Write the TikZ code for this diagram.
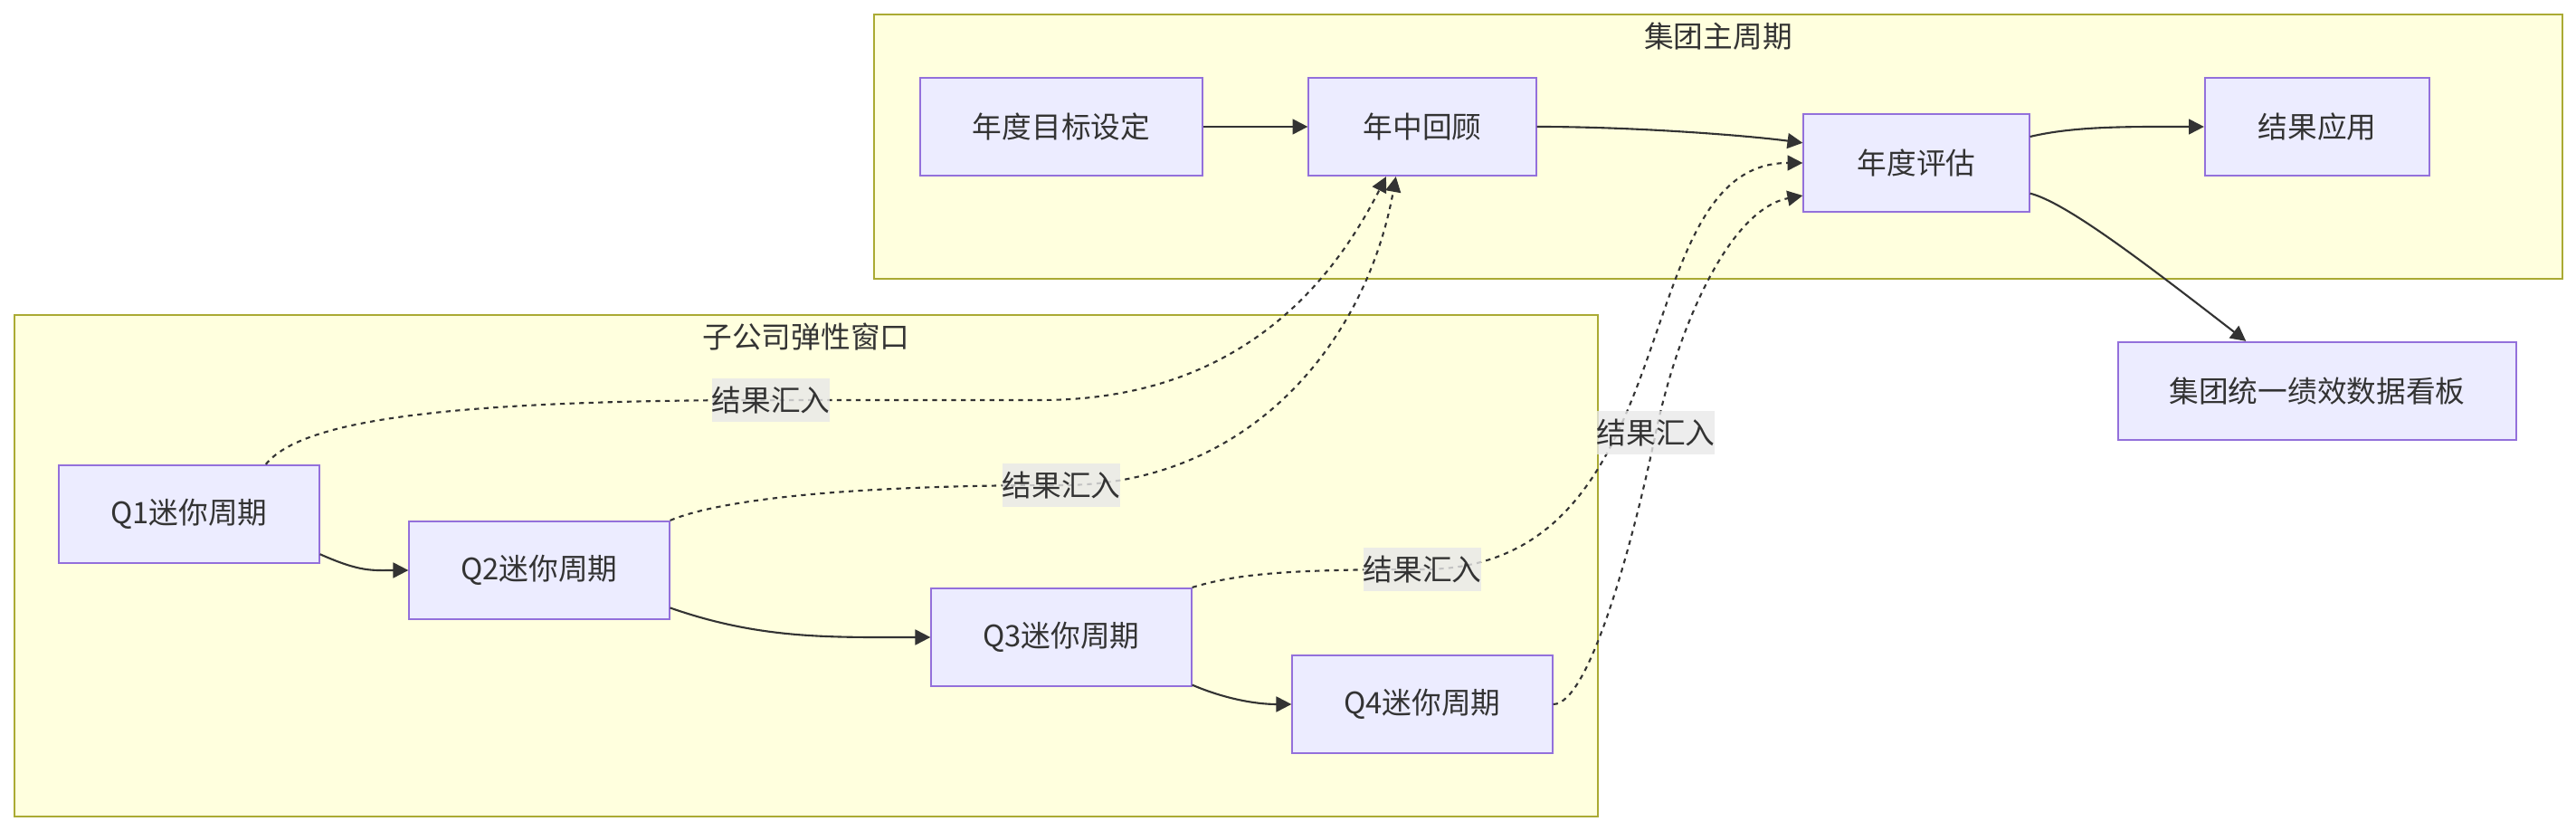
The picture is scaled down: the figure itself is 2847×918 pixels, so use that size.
\documentclass[tikz,border=0pt]{standalone}
\usepackage{fontspec}
\setmainfont{Noto Sans CJK SC}
\usepackage{tikz}
\usetikzlibrary{arrows.meta}
\definecolor{ink}{HTML}{333333}
\definecolor{stagefill}{HTML}{ECECFF}
\definecolor{stageline}{HTML}{9370DB}
\definecolor{groupfill}{HTML}{FFFFDE}
\definecolor{groupline}{HTML}{AAAA33}
\definecolor{tagfill}{HTML}{E8E8E8}
\tikzset{
  stage/.style={draw=stageline, fill=stagefill, line width=0.6pt, minimum height=1.08cm, inner sep=0pt, text=ink},
  group/.style={draw=groupline, fill=groupfill, line width=0.6pt},
  grouptitle/.style={text=ink, inner sep=0pt},
  flow/.style={draw=ink, line width=0.6pt, -{Triangle[length=4.8pt, width=4.8pt]}},
  feed/.style={flow, dash pattern=on 1.5pt off 1.5pt},
  tag/.style={fill=tagfill, fill opacity=0.8, text opacity=1, text=ink, minimum width=1.28cm, minimum height=0.48cm, inner sep=0pt}
}

\begin{document}
\begin{tikzpicture}[x=0.01cm, y=0.01cm, font=\fontsize{9.3}{11}\selectfont]
    \useasboundingbox (0,0) rectangle (2847,918);
    \draw[group] (966,610) rectangle (2832,902);
    \draw[group] (16,16) rectangle (1766,570);
    \node[grouptitle] (maintitle) at (1899,878) {集团主周期};
    \node[grouptitle] (subtitle) at (891,546) {子公司弹性窗口};

    \node[stage, minimum width=3.12cm] (goal) at (1173,778) {年度目标设定};
    \node[stage, minimum width=2.51cm] (mid) at (1572,778) {年中回顾};
    \node[stage, minimum width=2.49cm] (eval) at (2118,738) {年度评估};
    \node[stage, minimum width=2.48cm] (apply) at (2561,778) {结果应用};
    \node[stage, minimum width=4.40cm] (board) at (2561,486) {集团统一绩效数据看板};
    \node[stage, minimum width=2.87cm] (q1) at (209,350) {Q1迷你周期};
    \node[stage, minimum width=2.87cm] (q2) at (596,288) {Q2迷你周期};
    \node[stage, minimum width=2.87cm] (q3) at (1173,214) {Q3迷你周期};
    \node[stage, minimum width=2.87cm] (q4) at (1572,140) {Q4迷你周期};

    \coordinate (t1) at (852,476);
    \coordinate (t2) at (1173,382);
    \coordinate (t3) at (1572,289);
    \coordinate (t4) at (1830,440);

    \draw[flow] (goal) -- (mid);
    \draw[flow] (mid.east) .. controls +(110,0) and +(-60,8) .. (eval.170);
    \draw[flow] (eval.13) .. controls +(50,12) and +(-80,0) .. (apply.west);
    \draw[flow] (eval.-15) .. controls +(40,-10) and +(-110,85) .. (board.145);
    \draw[flow] (q1.-17) .. controls +(45,-20) and +(-40,0) .. (q2.west);
    \draw[flow] (q2.-16) .. controls +(100,-35) and +(-110,0) .. (q3.west);
    \draw[flow] (q3.-20) .. controls +(35,-15) and +(-40,0) .. (q4.west);

    \draw[feed] (q1.33) .. controls +(40,50) and +(-350,0) .. (t1) -- ++(298,0) .. controls +(230,0) and +(-53,-104) .. (mid.234);
    \draw[feed] (q2.north east) .. controls +(60,25) and +(-220,0) .. (t2) .. controls +(207,0) and +(-33,-184) .. (mid.242);
    \draw[feed] (q3.north east) .. controls +(50,15) and +(-150,0) .. (t3) .. controls +(300,0) and +(-200,0) .. (eval.west);
    \draw[feed] (q4.east) .. controls +(40,0) and +(-25,-120) .. (t4) .. controls +(25,120) and +(-80,-15) .. (eval.196);

    \node[tag] (tag1) at (t1) {结果汇入};
    \node[tag] (tag2) at (t2) {结果汇入};
    \node[tag] (tag3) at (t3) {结果汇入};
    \node[tag] (tag4) at (t4) {结果汇入};
\end{tikzpicture}
\end{document}
